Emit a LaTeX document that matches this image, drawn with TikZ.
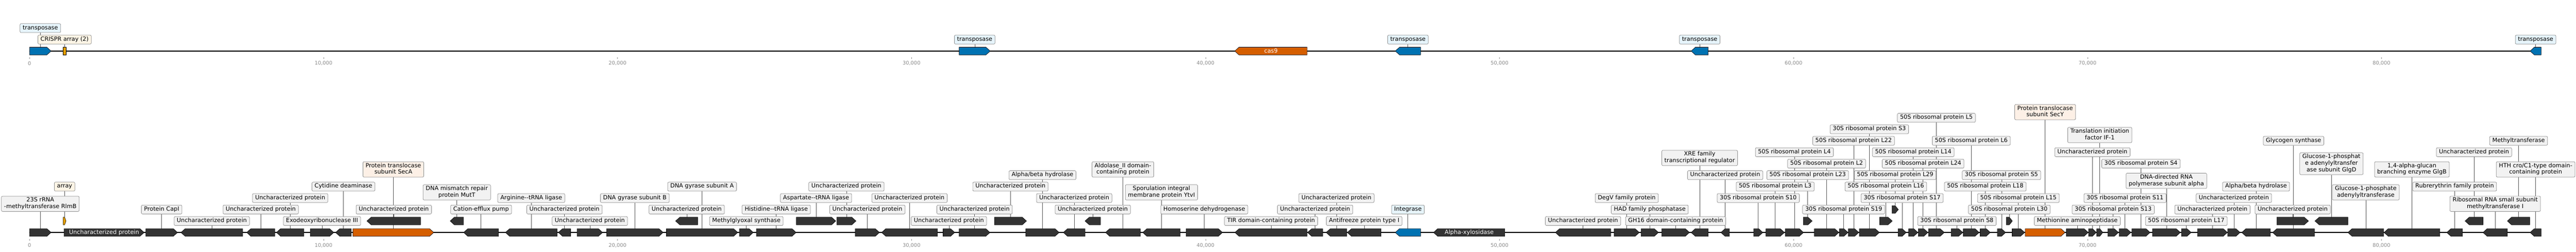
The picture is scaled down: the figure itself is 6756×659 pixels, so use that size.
\documentclass[tikz,border=0pt]{standalone}
\usepackage{fontspec}
\setmainfont{DejaVu Sans}
\newfontfamily\dvsans{DejaVu Sans}
\usetikzlibrary{positioning}
\pgfdeclarelayer{lines}
\pgfsetlayers{lines,main}

\definecolor{genedark}{HTML}{333333}
\definecolor{geneblue}{HTML}{0072B2}
\definecolor{genegold}{HTML}{E69F00}
\definecolor{generust}{HTML}{D55E00}
\definecolor{boxgray}{HTML}{F2F2F2}
\definecolor{boxblue}{HTML}{E6F4FB}
\definecolor{boxcream}{HTML}{FDF5E6}
\definecolor{boxpeach}{HTML}{FDF0E6}
\definecolor{boxline}{HTML}{8C8C8C}
\definecolor{tickgray}{HTML}{8A8A8A}
\definecolor{leadgray}{HTML}{555555}

\newcommand{\lblfont}{\dvsans\fontsize{15.2}{17.3}\selectfont}

\tikzset{
	gene/.style={draw=black, line width=0.8pt, fill=genedark},
	tpgene/.style={gene, fill=geneblue},
	crgene/.style={gene, fill=genegold},
	secgene/.style={gene, fill=generust},
	lbl/.style={draw=boxline, line width=1pt, rounded corners=3pt, fill=boxgray, inner xsep=7pt, inner ysep=3pt, align=center, font=\lblfont, execute at begin node=\strut, execute at end node=\strut},
	tplbl/.style={lbl, fill=boxblue},
	crlbl/.style={lbl, fill=boxcream},
	seclbl/.style={lbl, fill=boxpeach},
	inlbl/.style={text=white, font=\lblfont, inner sep=0pt},
	leader/.style={draw=leadgray, line width=0.9pt},
	track/.style={draw=black, line width=2pt},
	tick/.style={draw=tickgray, line width=0.8pt},
	ticklbl/.style={text=tickgray, font=\dvsans\fontsize{13.3}{15}\selectfont, inner sep=0pt}
}

\newcommand{\fwd}[5][gene]{%
	\pgfmathsetmacro{\ghead}{min(11,(#4-#3)/2)}%
	\draw[#1] (#3,#5-10) -- (#4-\ghead,#5-10) -- (#4,#5) -- (#4-\ghead,#5+10) -- (#3,#5+10) -- cycle;
	\coordinate (#2) at ({(#3+#4)/2},#5-10);}
\newcommand{\rev}[5][gene]{%
	\pgfmathsetmacro{\ghead}{min(11,(#4-#3)/2)}%
	\draw[#1] (#4,#5-10) -- (#3+\ghead,#5-10) -- (#3,#5) -- (#3+\ghead,#5+10) -- (#4,#5+10) -- cycle;
	\coordinate (#2) at ({(#3+#4)/2},#5-10);}
\newcommand{\tagit}[4][lbl]{%
	\pgfmathsetmacro{\labely}{\trackbase-30*#3}%
	\node[#1] (l#2) at (#2 |- 0,\labely) {#4};
	\begin{pgfonlayer}{lines}\draw[leader] (l#2.south) -- (#2);\end{pgfonlayer}}

\begin{document}
\begin{tikzpicture}[x=1pt,y=-1pt]
	\useasboundingbox (0,0) rectangle (6756,659);
	\begin{pgfonlayer}{lines}
		\draw[track] (77.5,133.6) -- (6664.5,133.6);
		\draw[track] (77.5,608.3) -- (6664.5,608.3);
	\end{pgfonlayer}
	\foreach \i/\t in {0/0,1/{10,000},2/{20,000},3/{30,000},4/{40,000},5/{50,000},6/{60,000},7/{70,000},8/{80,000}} {
		\draw[tick] ({77.5+771.05*\i},150) -- ++(0,4);
		\node[ticklbl] (tt\i) at ({77.5+771.05*\i},166) {\t};
		\draw[tick] ({77.5+771.05*\i},625) -- ++(0,4);
		\node[ticklbl] (bt\i) at ({77.5+771.05*\i},642) {\t};
	}

	% top track
	\fwd[tpgene]{t1}{77.5}{134}{133.6}
	\draw[crgene] (165.6,123.6) rectangle (173.2,143.6);
	\coordinate (cr) at (169.4,123.6);
	\fwd[tpgene]{t2}{2515.6}{2596.9}{133.6}
	\rev[secgene]{t9}{3238.3}{3428.2}{133.6}
	\node[inlbl] (ncas) at (3333.3,133.6) {cas9};
	\rev[tpgene]{t3}{3659.3}{3725.8}{133.6}
	\rev[tpgene]{t4}{4435.2}{4480.1}{133.6}
	\rev[tpgene]{t5}{6635.5}{6664.5}{133.6}
	\def\trackbase{133.6}
	\tagit[tplbl]{t1}{2}{transposase}
	\tagit[crlbl]{cr}{1}{CRISPR array (2)}
	\tagit[tplbl]{t2}{1}{transposase}
	\tagit[tplbl]{t3}{1}{transposase}
	\tagit[tplbl]{t4}{1}{transposase}
	\tagit[tplbl]{t5}{1}{transposase}

	% bottom track
	\fwd{g1}{77.5}{134}{608.3}
	\fwd[crgene]{ga}{165.6}{173.2}{578.3}
	\fwd{g2}{168}{378}{608.3}
	\node[inlbl] (n2) at (273,608.3) {Uncharacterized protein};
	\fwd{g3}{382.3}{465.6}{608.3}
	\rev{g4}{474.6}{636.4}{608.3}
	\rev{g5}{647}{720.6}{608.3}
	\rev{g6}{725}{797}{608.3}
	\fwd{g7}{813.6}{875.4}{608.3}
	\rev{g8}{880.1}{921.3}{608.3}
	\fwd[secgene]{g9}{925.6}{1137.6}{608.3}
	\rev{g10}{962.4}{1103.1}{578.3}
	\rev{g11}{1180.6}{1215.6}{578.3}
	\rev{g12}{1216}{1307.4}{608.3}
	\rev{g13}{1325.6}{1461}{608.3}
	\rev{g14}{1464.4}{1496.4}{608.3}
	\fwd{g15}{1513.4}{1580.4}{608.3}
	\fwd{g16}{1590.9}{1739.2}{608.3}
	\rev{g17}{1771.8}{1830.1}{578.3}
	\fwd{g18}{1747.8}{1934.9}{608.3}
	\fwd{g19}{1939.2}{1975.6}{608.3}
	\fwd{g20}{1983.7}{2088}{608.3}
	\fwd{g21}{2088.5}{2191.9}{578.3}
	\fwd{g22}{2194.7}{2245}{578.3}
	\fwd{g23}{2243}{2306.5}{608.3}
	\rev{g24}{2312.2}{2458.6}{608.3}
	\fwd{g25}{2473.4}{2504}{608.3}
	\fwd{g26}{2515.6}{2596.4}{608.3}
	\fwd{g27}{2607.9}{2692.1}{578.3}
	\fwd{g28}{2690.2}{2777.8}{608.3}
	\rev{g29}{2788.8}{2845.7}{608.3}
	\rev{g30}{2845.7}{2886.4}{578.3}
	\rev{g31}{2899.3}{2990.7}{608.3}
	\rev{g32}{2997}{3095.2}{608.3}
	\fwd{g33}{3110.5}{3206.2}{608.3}
	\rev{g34}{3238.8}{3428.2}{608.3}
	\rev{g35}{3429.2}{3468.9}{608.3}
	\rev{g36}{3478}{3532}{608.3}
	\rev{g37}{3533.5}{3622}{608.3}
	\rev[tpgene]{g38}{3659.3}{3725.8}{608.3}
	\rev{g39}{3759.6}{3946.7}{608.3}
	\node[inlbl] (n39) at (3853.2,608.3) {Alpha-xylosidase};
	\rev{g40}{4079.2}{4224.2}{608.3}
	\fwd{g41}{4233.3}{4299.3}{608.3}
	\fwd{g42}{4304}{4349.5}{608.3}
	\fwd{g43}{4358.1}{4430.9}{608.3}
	\rev{g44}{4435.2}{4480.1}{608.3}
	\rev{g45}{4513.3}{4535.7}{608.3}
	\fwd{g46}{4599.3}{4623.3}{608.3}
	\fwd{g47}{4631.3}{4680}{608.3}
	\fwd{g48}{4682}{4730}{608.3}
	\fwd{g49}{4729.3}{4752.7}{578.3}
	\fwd{g50}{4758.3}{4822.7}{608.3}
	\fwd{g51}{4824}{4846.7}{608.3}
	\fwd{g52}{4847.7}{4875}{608.3}
	\fwd{g53}{4876.3}{4929}{608.3}
	\fwd{g54}{4929.3}{4962.7}{578.3}
	\fwd{g55}{4962}{4978.7}{548.3}
	\fwd{g56}{4978}{4999.3}{608.3}
	\fwd{g57}{5005.7}{5030}{608.3}
	\fwd{g58}{5031}{5056.3}{608.3}
	\fwd{g59}{5057.7}{5099.3}{608.3}
	\fwd{g60}{5117}{5147.7}{608.3}
	\fwd{g61}{5149}{5190.7}{608.3}
	\fwd{g62}{5193.3}{5220}{608.3}
	\fwd{g63}{5238.3}{5260}{608.3}
	\fwd{g64}{5261.7}{5277.7}{578.3}
	\fwd{g65}{5277}{5310}{608.3}
	\fwd[secgene]{g66}{5311.3}{5416}{608.3}
	\fwd{g67}{5419.3}{5476.7}{608.3}
	\fwd{g68}{5477.7}{5497.7}{608.3}
	\fwd{g69}{5499}{5515}{608.3}
	\fwd{g70}{5528.3}{5556}{608.3}
	\fwd{g71}{5558}{5588.7}{608.3}
	\fwd{g72}{5591}{5639}{608.3}
	\fwd{g73}{5645}{5718.3}{608.3}
	\fwd{g74}{5721}{5746.7}{608.3}
	\fwd{g75}{5763.3}{5841.7}{608.3}
	\fwd{g76}{5842.3}{5875}{608.3}
	\rev{g77}{5879.3}{5954.3}{608.3}
	\fwd{g78}{5971.3}{6054.3}{578.3}
	\rev{g79}{5960.3}{6070}{608.3}
	\rev{g80}{6071.3}{6157.7}{578.3}
	\rev{g81}{6157.7}{6251.4}{608.3}
	\rev{g82}{6252.5}{6398.6}{608.3}
	\rev{g83}{6417}{6458.2}{608.3}
	\rev{g84}{6464.9}{6512}{578.3}
	\rev{g85}{6512}{6575.9}{608.3}
	\rev{g86}{6575.9}{6634.8}{578.3}
	\rev{g87}{6635.5}{6664.5}{608.3}

	\def\trackbase{608.3}
	\tagit{g1}{2.5}{23S rRNA\\-methyltransferase RlmB}
	\tagit[crlbl]{ga}{4}{array}
	\tagit{g3}{2}{Protein CapI}
	\tagit{g4}{1}{Uncharacterized protein}
	\tagit{g5}{2}{Uncharacterized protein}
	\tagit{g6}{3}{Uncharacterized protein}
	\tagit{g7}{1}{Exodeoxyribonuclease III}
	\tagit{g8}{4}{Cytidine deaminase}
	\tagit[seclbl]{g9}{5.5}{Protein translocase\\subunit SecA}
	\tagit{g10}{2}{Uncharacterized protein}
	\tagit{g11}{3.5}{DNA mismatch repair\\protein MutT}
	\tagit{g12}{2}{Cation-efflux pump}
	\tagit{g13}{3}{Arginine--tRNA ligase}
	\tagit{g14}{2}{Uncharacterized protein}
	\tagit{g15}{1}{Uncharacterized protein}
	\tagit{g16}{3}{DNA gyrase subunit B}
	\tagit{g17}{2}{Uncharacterized protein}
	\tagit{g18}{4}{DNA gyrase subunit A}
	\tagit{g19}{1}{Methylglyoxal synthase}
	\tagit{g20}{2}{Histidine--tRNA ligase}
	\tagit{g21}{3}{Aspartate--tRNA ligase}
	\tagit{g22}{4}{Uncharacterized protein}
	\tagit{g23}{2}{Uncharacterized protein}
	\tagit{g24}{3}{Uncharacterized protein}
	\tagit{g25}{1}{Uncharacterized protein}
	\tagit{g26}{2}{Uncharacterized protein}
	\tagit{g27}{4}{Uncharacterized protein}
	\tagit{g28}{5}{Alpha/beta hydrolase}
	\tagit{g29}{3}{Uncharacterized protein}
	\tagit{g30}{2}{Uncharacterized protein}
	\tagit{g31}{5.5}{Aldolase\_II domain-\\containing protein}
	\tagit{g32}{3.5}{Sporulation integral\\membrane protein YtvI}
	\tagit{g33}{2}{Homoserine dehydrogenase}
	\tagit{g34}{1}{TIR domain-containing protein}
	\tagit{g35}{2}{Uncharacterized protein}
	\tagit{g36}{3}{Uncharacterized protein}
	\tagit{g37}{1}{Antifreeze protein type I}
	\tagit[tplbl]{g38}{2}{Integrase}
	\tagit{g40}{1}{Uncharacterized protein}
	\tagit{g41}{3}{DegV family protein}
	\tagit{g42}{2}{HAD family phosphatase}
	\tagit{g43}{1}{GH16 domain-containing protein}
	\tagit{g44}{6.5}{XRE family\\transcriptional regulator}
	\tagit{g45}{5}{Uncharacterized protein}
	\tagit{g46}{3}{30S ribosomal protein S10}
	\tagit{g47}{4}{50S ribosomal protein L3}
	\tagit{g48}{7}{50S ribosomal protein L4}
	\tagit{g49}{5}{50S ribosomal protein L23}
	\tagit{g50}{6}{50S ribosomal protein L2}
	\tagit{g51}{2}{30S ribosomal protein S19}
	\tagit{g52}{8}{50S ribosomal protein L22}
	\tagit{g53}{9}{30S ribosomal protein S3}
	\tagit{g54}{4}{50S ribosomal protein L16}
	\tagit{g55}{5}{50S ribosomal protein L29}
	\tagit{g56}{3}{30S ribosomal protein S17}
	\tagit{g57}{7}{50S ribosomal protein L14}
	\tagit{g58}{6}{50S ribosomal protein L24}
	\tagit{g59}{10}{50S ribosomal protein L5}
	\tagit{g60}{1}{30S ribosomal protein S8}
	\tagit{g61}{8}{50S ribosomal protein L6}
	\tagit{g62}{4}{50S ribosomal protein L18}
	\tagit{g63}{5}{30S ribosomal protein S5}
	\tagit{g64}{2}{50S ribosomal protein L30}
	\tagit{g65}{3}{50S ribosomal protein L15}
	\tagit[seclbl]{g66}{10.5}{Protein translocase\\subunit SecY}
	\tagit{g67}{1}{Methionine aminopeptidase}
	\tagit{g68}{7}{Uncharacterized protein}
	\tagit{g69}{8.5}{Translation initiation\\factor IF-1}
	\tagit{g70}{2}{30S ribosomal protein S13}
	\tagit{g71}{3}{30S ribosomal protein S11}
	\tagit{g72}{6}{30S ribosomal protein S4}
	\tagit{g73}{4.5}{DNA-directed RNA\\polymerase subunit alpha}
	\tagit{g74}{1}{50S ribosomal protein L17}
	\tagit{g75}{2}{Uncharacterized protein}
	\tagit{g76}{3}{Uncharacterized protein}
	\tagit{g77}{4}{Alpha/beta hydrolase}
	\tagit{g78}{2}{Uncharacterized protein}
	\tagit{g79}{8}{Glycogen synthase}
	\tagit{g80}{6}{Glucose-1-phosphat\\e adenylyltransfer\\ase subunit GlgD}
	\tagit{g81}{3.5}{Glucose-1-phosphate\\adenylyltransferase}
	\tagit{g82}{5.5}{1,4-alpha-glucan\\branching enzyme GlgB}
	\tagit{g83}{4}{Rubrerythrin family protein}
	\tagit{g84}{7}{Uncharacterized protein}
	\tagit{g85}{2.5}{Ribosomal RNA small subunit\\methyltransferase I}
	\tagit{g86}{8}{Methyltransferase}
	\tagit{g87}{5.5}{HTH cro/C1-type domain-\\containing protein}
\end{tikzpicture}
\end{document}
